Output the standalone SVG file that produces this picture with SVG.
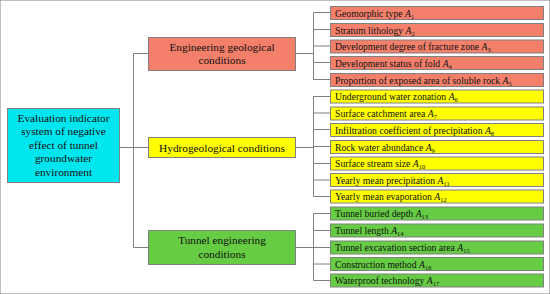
<svg xmlns="http://www.w3.org/2000/svg" width="550" height="294" viewBox="0 0 550 294">
<style>
text{font-family:"Liberation Serif","Times New Roman",serif;fill:#111;}
.leaf{font-size:9.7px;}
.mid{font-size:11.3px;text-anchor:middle;}
.root{font-size:11.3px;text-anchor:middle;}
.i{font-style:italic;}
.s{font-size:6.5px;}
rect{stroke:#808080;stroke-width:1;}
.sal{fill:#F4806B;}
.yel{fill:#FFFF00;}
.grn{fill:#66CC44;}
.cya{fill:#00E6EE;}
#connectors path{fill:none;stroke:#808080;stroke-width:1;}
</style>
<rect x="0" y="0" width="550" height="294" fill="#fff" stroke="none"/>
<g id="connectors">
<path d="M119.5,147.5H133.5M133.5,53.5V247.5M133.5,53.5H148M133.5,147.5H148M133.5,247.5H148"/>
<path d="M296,53.5H313.5M313.5,12.5V79.5M313.5,12.5H330M313.5,29.5H330M313.5,46H330M313.5,62.5H330M313.5,79.5H330"/>
<path d="M296,147.5H313.5M313.5,96.5V196.5M313.5,96.5H330M313.5,113H330M313.5,129.5H330M313.5,146.5H330M313.5,163.5H330M313.5,180H330M313.5,196.5H330"/>
<path d="M296,247.5H313.5M313.5,213.5V280.5M313.5,213.5H330M313.5,230.5H330M313.5,247.5H330M313.5,264H330M313.5,280.5H330"/>
</g>
<g id="root"><rect class="cya" x="7.5" y="108.5" width="112" height="74"/>
<text class="root" x="63.5" y="121.5">Evaluation indicator</text>
<text class="root" x="63.5" y="135">system of negative</text>
<text class="root" x="63.5" y="148.5">effect of  tunnel</text>
<text class="root" x="63.5" y="162">groundwater</text>
<text class="root" x="63.5" y="175.5">environment</text></g>
<g id="eng"><rect class="sal" x="148.5" y="37.5" width="147" height="33"/>
<text class="mid" x="222" y="50.5">Engineering geological</text>
<text class="mid" x="222" y="64">conditions</text></g>
<g id="hydro"><rect class="yel" x="148.5" y="137.5" width="147" height="20"/>
<text class="mid" x="222" y="151.5">Hydrogeological conditions</text></g>
<g id="tun"><rect class="grn" x="148.5" y="230.5" width="147" height="34"/>
<text class="mid" x="222" y="244">Tunnel engineering</text>
<text class="mid" x="222" y="258">conditions</text></g>
<g id="a1"><rect class="sal" x="330.5" y="6.5" width="213" height="13"/><text class="leaf" x="335" y="16.5">Geomorphic type <tspan class="i">A</tspan><tspan class="s" dy="2">1</tspan></text></g>
<g id="a2"><rect class="sal" x="330.5" y="23.5" width="213" height="13"/><text class="leaf" x="335" y="33.5">Stratum lithology <tspan class="i">A</tspan><tspan class="s" dy="2">2</tspan></text></g>
<g id="a3"><rect class="sal" x="330.5" y="40" width="213" height="13"/><text class="leaf" x="335" y="50">Development degree of fracture zone <tspan class="i">A</tspan><tspan class="s" dy="2">3</tspan></text></g>
<g id="a4"><rect class="sal" x="330.5" y="56.5" width="213" height="13"/><text class="leaf" x="335" y="66.5">Development status of fold <tspan class="i">A</tspan><tspan class="s" dy="2">4</tspan></text></g>
<g id="a5"><rect class="sal" x="330.5" y="73.5" width="213" height="13"/><text class="leaf" x="335" y="83.5">Proportion of exposed area of soluble rock <tspan class="i">A</tspan><tspan class="s" dy="2">5</tspan></text></g>
<g id="a6"><rect class="yel" x="330.5" y="90" width="213" height="13"/><text class="leaf" x="335" y="100">Underground water zonation <tspan class="i">A</tspan><tspan class="s" dy="2">6</tspan></text></g>
<g id="a7"><rect class="yel" x="330.5" y="107" width="213" height="13"/><text class="leaf" x="335" y="117">Surface catchment area <tspan class="i">A</tspan><tspan class="s" dy="2">7</tspan></text></g>
<g id="a8"><rect class="yel" x="330.5" y="123.5" width="213" height="13"/><text class="leaf" x="335" y="133.5">Infiltration coefficient of precipitation <tspan class="i">A</tspan><tspan class="s" dy="2">8</tspan></text></g>
<g id="a9"><rect class="yel" x="330.5" y="140.5" width="213" height="13"/><text class="leaf" x="335" y="150.5">Rock water abundance <tspan class="i">A</tspan><tspan class="s" dy="2">9</tspan></text></g>
<g id="a10"><rect class="yel" x="330.5" y="157" width="213" height="13"/><text class="leaf" x="335" y="167">Surface stream size <tspan class="i">A</tspan><tspan class="s" dy="2">10</tspan></text></g>
<g id="a11"><rect class="yel" x="330.5" y="173.5" width="213" height="13"/><text class="leaf" x="335" y="183.5">Yearly mean precipitation <tspan class="i">A</tspan><tspan class="s" dy="2">11</tspan></text></g>
<g id="a12"><rect class="yel" x="330.5" y="190" width="213" height="13"/><text class="leaf" x="335" y="200">Yearly mean evaporation <tspan class="i">A</tspan><tspan class="s" dy="2">12</tspan></text></g>
<g id="a13"><rect class="grn" x="330.5" y="207" width="213" height="13"/><text class="leaf" x="335" y="217">Tunnel buried depth <tspan class="i">A</tspan><tspan class="s" dy="2">13</tspan></text></g>
<g id="a14"><rect class="grn" x="330.5" y="224" width="213" height="13"/><text class="leaf" x="335" y="234">Tunnel length <tspan class="i">A</tspan><tspan class="s" dy="2">14</tspan></text></g>
<g id="a15"><rect class="grn" x="330.5" y="241" width="213" height="13"/><text class="leaf" x="335" y="251">Tunnel excavation section area <tspan class="i">A</tspan><tspan class="s" dy="2">15</tspan></text></g>
<g id="a16"><rect class="grn" x="330.5" y="257.5" width="213" height="13"/><text class="leaf" x="335" y="267.5">Construction method <tspan class="i">A</tspan><tspan class="s" dy="2">16</tspan></text></g>
<g id="a17"><rect class="grn" x="330.5" y="274" width="213" height="13"/><text class="leaf" x="335" y="284">Waterproof technology <tspan class="i">A</tspan><tspan class="s" dy="2">17</tspan></text></g>
</svg>
